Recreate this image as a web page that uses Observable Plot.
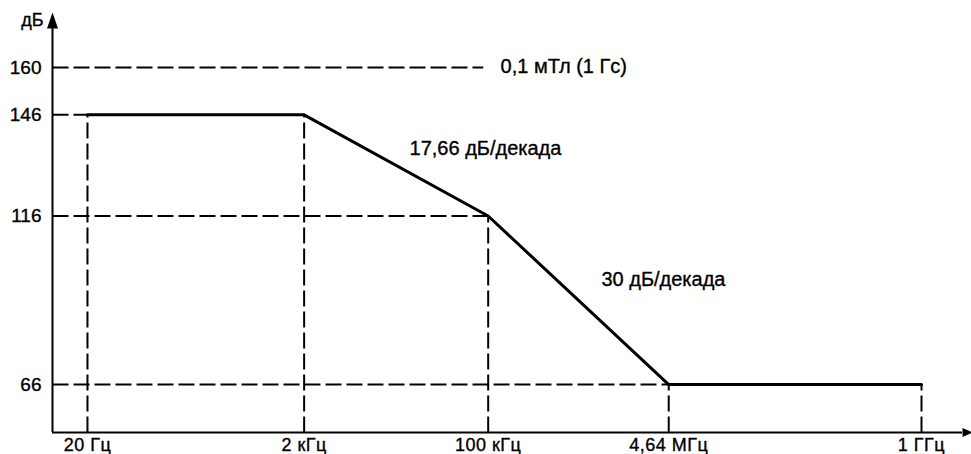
<!DOCTYPE html>
<html>
<head>
<meta charset="utf-8">
<script src="https://cdn.jsdelivr.net/npm/d3@7"></script>
<script src="https://cdn.jsdelivr.net/npm/@observablehq/plot@0.6"></script>
<style>
  html, body { margin: 0; padding: 0; background: #fff; }
  svg { display: block; }
  svg g.xlab text { letter-spacing: 0.5px; }
</style>
</head>
<body>
<div id="chart"></div>
<script>
// ---- data ----
const freqs = [20, 2000, 100000, 4640000, 1e9];
const levels = [146, 146, 116, 66, 66];
const xTickLabels = ["20 Гц", "2 кГц", "100 кГц", "4,64 МГц", "1 ГГц"];
const yTicks = [66, 116, 146, 160];
const yUnit = "дБ";
const refLevel = 160;
const refLineEnd = 9e4;
const refLabel = "0,1 мТл (1 Гс)";
const refLabelX = 1.3e5;
const slopeLabels = ["17,66 дБ/декада", "30 дБ/декада"];
const slopeLabelX = [1.88e4, 1.11e6];
const slopeLabelY = [136, 97];
const xDomain = [9.51, 2.39e9];
const yDomain = [51.8, 171.6];

// ---- derived tables ----
const curve = freqs.map((f, i) => ({f, v: levels[i]}));
const hGuides = yTicks.map(v => ({y: v, xEnd: v === refLevel ? refLineEnd : freqs[levels.indexOf(v)]}));
const vGuides = curve;
const slopes = slopeLabels.map((t, i) => ({t, x: slopeLabelX[i], y: slopeLabelY[i]}));
const xTicks = freqs.map((f, i) => ({f, label: xTickLabels[i]}));

const arrowUp = {draw(ctx) { ctx.moveTo(0, -16); ctx.lineTo(-5.5, 0); ctx.lineTo(5.5, 0); ctx.closePath(); }};
const arrowRight = {draw(ctx) { ctx.moveTo(10, 0); ctx.lineTo(0, -4.5); ctx.lineTo(0, 4.5); ctx.closePath(); }};

const dash = "16,5";
const font = "'Liberation Sans', Arial, sans-serif";
const ink = {fill: "black", stroke: "black", strokeWidth: 0.35};

const chart = Plot.plot({
  width: 971,
  height: 454,
  marginLeft: 52,
  marginRight: 9,
  marginTop: 28,
  marginBottom: 22,
  style: {fontFamily: font, color: "black", background: "white", overflow: "visible"},
  x: {type: "log", domain: xDomain, axis: null},
  y: {type: "linear", domain: yDomain, axis: null},
  marks: [
    Plot.link(hGuides, {x1: () => xDomain[0], x2: "xEnd", y1: "y", y2: "y", stroke: "black", strokeWidth: 2, strokeDasharray: dash}),
    Plot.link(vGuides, {x1: "f", x2: "f", y1: () => yDomain[0], y2: "v", stroke: "black", strokeWidth: 2, strokeDasharray: dash}),
    Plot.line(curve, {x: "f", y: "v", stroke: "black", strokeWidth: 3, strokeLinejoin: "miter"}),
    Plot.ruleY([yDomain[0]], {stroke: "black", strokeWidth: 2}),
    Plot.ruleX([xDomain[0]], {stroke: "black", strokeWidth: 2}),
    Plot.dot([0], {x: () => xDomain[0], y: () => yDomain[1], symbol: arrowUp, fill: "black", stroke: "none", r: 5}),
    Plot.dot([0], {x: () => xDomain[1], y: () => yDomain[0], symbol: arrowRight, fill: "black", stroke: "none", r: 5}),
    Plot.text(xTicks, {x: "f", y: () => yDomain[0], text: "label", dy: 13, lineAnchor: "middle", textAnchor: "middle", fontSize: 18, ...ink, className: "xlab"}),
    Plot.text(yTicks, {x: () => xDomain[0], y: d => d, text: d => String(d), dx: -11, textAnchor: "end", lineAnchor: "middle", fontSize: 19, ...ink}),
    Plot.text([yUnit], {text: d => d, frameAnchor: "top-left", dx: -9, dy: -8, textAnchor: "end", lineAnchor: "middle", fontSize: 18, ...ink}),
    Plot.text([refLabel], {text: d => d, x: () => refLabelX, y: () => refLevel, dy: -1, textAnchor: "start", lineAnchor: "middle", fontSize: 20, ...ink}),
    Plot.text(slopes, {text: "t", x: "x", y: "y", textAnchor: "start", lineAnchor: "middle", fontSize: 20, ...ink})
  ]
});
document.getElementById("chart").appendChild(chart);
</script>
</body>
</html>
